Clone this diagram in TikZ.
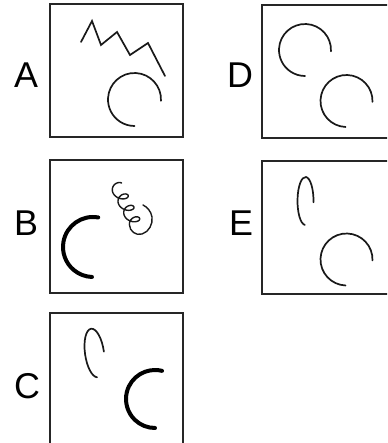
\documentclass[tikz,border=0pt]{standalone}
\usepackage{fontspec}
\setmainfont{Liberation Sans}
\begin{document}
\begin{tikzpicture}[x=1bp, y=1bp,
  panel/.style={draw=black!85,line width=2bp,minimum width=133bp,minimum height=133bp,inner sep=0pt},
  lbl/.style={font=\fontsize{36}{40}\selectfont,inner sep=0pt},
  stroke/.style={line width=1.7bp,black!90,line cap=round},
  heavy/.style={line width=4bp,black,line cap=round}]
\useasboundingbox (0,0) rectangle (387,443);
\clip (0,0) rectangle (387,443);
% panels
\node[panel] (boxA) at (116.5,372.5) {};
\node[panel] (boxB) at (116.5,216.5) {};
\node[panel] (boxC) at (116.5,63.5) {};
\node[panel] (boxD) at (328.5,371) {};
\node[panel] (boxE) at (328.5,215) {};
% letters
\node[lbl] (labA) at (26,368) {A};
\node[lbl] (labB) at (26,220) {B};
\node[lbl] (labC) at (27,57) {C};
\node[lbl] (labD) at (240,368) {D};
\node[lbl] (labE) at (241,220) {E};
% A: zigzag and open circle
\draw[stroke] (81,401) -- (92,422) -- (101,398) -- (117,411) -- (130,388) -- (148,400) -- (165,367);
\draw[stroke,shift={(134.5,343.5)}] (-3:26.5) arc[start angle=-3,end angle=270,radius=26.5];
% B: thick arc and curl
\draw[heavy,shift={(93,196)}] (80:30) arc[start angle=80,end angle=268,radius=30];
\draw[stroke,line width=1.4bp] plot[domain=40:1260,samples=180,smooth,variable=\t]
  ({116+\t/63+6.5*cos(\t)},{258-\t/31.5+5*sin(\t)})
  .. controls (129.5,212) and (136,207) .. (142,209)
  .. controls (149,211) and (153,219) .. (152,226)
  .. controls (151,232) and (147,236) .. (143,238);
% C: hook and thick arc
\draw[stroke,shift={(94.5,90)},rotate=8] (0:9.5 and 24.5) arc[start angle=0,end angle=265,x radius=9.5,y radius=24.5];
\draw[heavy,shift={(155,44)}] (76:29) arc[start angle=76,end angle=270,radius=29];
% D: two open circles
\draw[stroke,shift={(305,393)}] (-3:26) arc[start angle=-3,end angle=270,radius=26];
\draw[stroke,shift={(346.5,342)}] (-2:26) arc[start angle=-2,end angle=268,radius=26];
% E: hook and open circle
\draw[stroke,shift={(305.5,242)}] (-3:8 and 24) arc[start angle=-3,end angle=265,x radius=8,y radius=24];
\draw[stroke,shift={(346.5,183.5)}] (-2:26) arc[start angle=-2,end angle=268,radius=26];
\end{tikzpicture}
\end{document}
